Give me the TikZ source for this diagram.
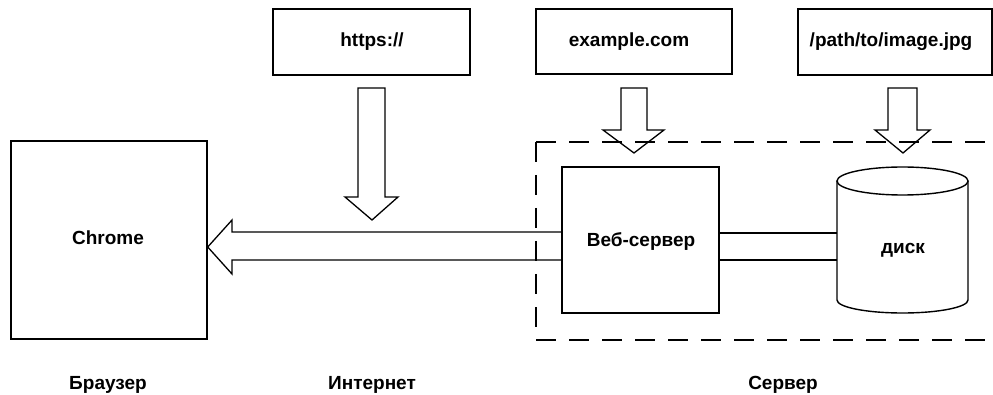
\documentclass[tikz,border=0pt]{standalone}
\usepackage{fontspec}
\setmainfont{Liberation Sans}
\usetikzlibrary{calc}
\tikzset{
  box/.style={draw, line width=1.4pt, inner sep=0pt},
  lbl/.style={font=\fontsize{19}{22}\selectfont\bfseries, inner sep=0pt},
  blk/.style={draw, line width=1.3pt, line join=miter},
  dashbox/.style={draw, line width=1.3pt, dash pattern=on 20pt off 13pt},
}
\begin{document}
\begin{tikzpicture}[x=1pt,y=-1pt]
\useasboundingbox (0,0) rectangle (993,395);
% boxes
\node[box, minimum width=196pt, minimum height=198pt] (chrome) at (109,240) {};
\node[box, minimum width=157pt, minimum height=146pt] (web) at (640.5,240) {};
\node[box, minimum width=197pt, minimum height=66pt] (https) at (371.5,42) {};
\node[box, minimum width=196pt, minimum height=65pt] (example) at (634,41.5) {};
\node[box, minimum width=194pt, minimum height=66pt] (path) at (895,42) {};
% texts
\node[lbl] (tchrome) at (108,238) {Chrome};
\node[lbl] (tweb) at (641,242) {Веб-сервер};
\node[lbl] (thttps) at (372,42) {https://};
\node[lbl] (texample) at (629,42) {example.com};
\node[lbl] (tpath) at (891,42) {/path/to/image.jpg};
\node[lbl] (tdisk) at (903,250) {диск};
\node[lbl] (tbrowser) at (108,385) {Браузер};
\node[lbl] (tnet) at (372,385) {Интернет};
\node[lbl] (tserver) at (783,385) {Сервер};
% disk cylinder
\coordinate (dtl) at (837,181);
\coordinate (dtr) at (968,181);
\coordinate (dbl) at (837,300);
\coordinate (dbr) at (968,300);
\draw[line width=1.4pt] (902.5,181) ellipse [x radius=65.5pt, y radius=14pt];
\draw[line width=1.4pt] (dtl) -- (dbl) arc[start angle=180, end angle=360, x radius=65.5pt, y radius=13pt] -- (dtr);
% dashed server region
\draw[dashbox] (536,142) -- (993,142);
\draw[dashbox] (536,142) -- (536,340) -- (993,340);
% big arrow from web server to chrome
\draw[blk] (web.west |- 0,232) -- (232,232) -- (232,220) -- (chrome.east |- 0,247) -- (232,274) -- (232,260) -- (web.west |- 0,260);
% link web server to disk
\draw[line width=1.3pt] (web.east |- 0,233) -- (dtl |- 0,233);
\draw[line width=1.3pt] (web.east |- 0,260) -- (dtl |- 0,260);
% down arrows
\draw[blk] (358,88) -- (385,88) -- (385,197) -- (398,197) -- (372,220) -- (345,197) -- (358,197) -- cycle;
\draw[blk] (621,88) -- (647,88) -- (647,130) -- (664,130) -- (634,153) -- (603,130) -- (621,130) -- cycle;
\draw[blk] (888,88) -- (917,88) -- (917,130) -- (930,130) -- (903,153) -- (875,130) -- (888,130) -- cycle;
\end{tikzpicture}
\end{document}
